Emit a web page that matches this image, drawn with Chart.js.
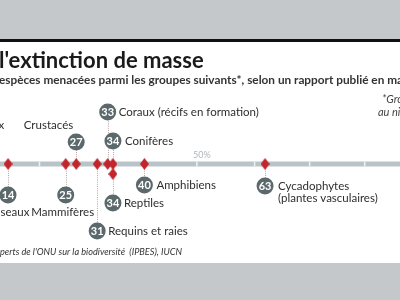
<!DOCTYPE html>
<html><head><meta charset="utf-8">
<script src="https://cdn.jsdelivr.net/npm/chart.js@4"></script>
<style>html,body{margin:0;padding:0;background:#fff}#c{display:block}</style>
</head><body>
<canvas id="c" width="400" height="300"></canvas>
<script>
// ---- data ----
const categories = ['Poissons osseux','Oiseaux','Mammifères','Crustacés','Requins et raies','Coraux (récifs en formation)','Conifères','Reptiles','Amphibiens','Cycadophytes|(plantes vasculaires)'];
const values = [7, 14, 25, 27, 31, 33, 34, 34, 40, 63];
const axisTicks = [20, 50, 61, 71.5, 82];
const axisLabel = '50%';
const title = "l'extinction de masse";
const subtitle = "espèces menacées parmi les groupes suivants*, selon un rapport publié en mai 2019";
const note1 = "*Groupes évalués";
const note2 = "au niveau mondial";
const source = "Source : Groupe d'experts de l'ONU sur la biodiversité  (IPBES), IUCN";

// ---- layout (pixels relative to the axis line) ----
const AXIS_Y = 164;
const layout = [
  {bub:-22, diam:0, lx:33,  ly:-39, align:'right'},
  {bub:31,  diam:0, lx:1,   ly:48,  align:'center'},
  {bub:31,  diam:0, lx:-3,  ly:48,  align:'center'},
  {bub:-22, diam:0, lx:-3,  ly:-39, align:'right'},
  {bub:67,  diam:0, lx:11,  ly:67,  align:'left'},
  {bub:-52, diam:0, lx:11,  ly:-52, align:'left'},
  {bub:-23, diam:0, lx:12,  ly:-23, align:'left'},
  {bub:39,  diam:10,lx:11,  ly:39,  align:'left'},
  {bub:21,  diam:0, lx:12,  ly:21,  align:'left'},
  {bub:22,  diam:0, lx:13,  ly:22,  align:'left'}
];

const FONT = 'Lato, "Open Sans", sans-serif';
const RED = '#c2262c', BUB = '#5b696d', GREYBAND = '#c4c8cb', AXIS = '#b9c4c9';

// diamond marker
const dm = document.createElement('canvas'); dm.width = 9; dm.height = 12;
(function(){const g = dm.getContext('2d'); g.fillStyle = RED; g.beginPath();
 g.moveTo(4.5,0); g.lineTo(9,6); g.lineTo(4.5,12); g.lineTo(0,6); g.closePath(); g.fill();})();

const diamonds = values.map((v,i)=>({x:v, y:AXIS_Y + layout[i].diam}));
const bubbles = values.map((v,i)=>({x:v, y:AXIS_Y + layout[i].bub}));

function txt(c, s, x, y, align, sx){
  c.save(); c.translate(x, y); c.scale(sx, 1); c.textAlign = align; c.fillText(s, 0, 0); c.restore();
}

const decor = {
  id:'decor',
  beforeDraw(chart){
    const c = chart.ctx; const W = chart.width, H = chart.height;
    c.save();
    c.fillStyle = '#fff'; c.fillRect(0,0,W,H);
    c.fillStyle = GREYBAND; c.fillRect(0,0,W,39); c.fillRect(0,263,W,H-263);
    c.fillStyle = '#111'; c.fillRect(0,39,W,3);
    c.fillStyle = '#1a1a1a'; c.textBaseline = 'alphabetic'; c.textAlign = 'left';
    c.font = 'bold 22px ' + FONT; c.fillText(title, -1, 68);
    c.fillStyle = '#333'; c.font = 'bold 11.8px ' + FONT; c.fillText(subtitle, -1, 84);
    c.font = 'italic 11px ' + FONT; c.fillStyle = '#444';
    c.fillText(note1, 382, 103); c.fillText(note2, 378, 116);
    c.font = 'italic 9px ' + FONT; c.fillStyle = '#333';
    const pre = "Source : Groupe d'ex";
    txt(c, source, -c.measureText(pre).width*1.02, 255, 'left', 1.02);
    c.restore();
  },
  beforeDatasetsDraw(chart){
    const c = chart.ctx, xs = chart.scales.x, ys = chart.scales.y;
    const ay = ys.getPixelForValue(AXIS_Y);
    c.save();
    c.fillStyle = AXIS; c.fillRect(0, ay-2.5, chart.width, 5);
    c.fillStyle = '#eef1f2';
    axisTicks.forEach(t=>{ const px = xs.getPixelForValue(t); c.fillRect(px-0.75, ay-2.5, 1.5, 5); });
    c.fillStyle = '#b0b6b9'; c.font = '9px ' + FONT; c.textAlign='center';
    c.fillText(axisLabel, xs.getPixelForValue(50)+5, ay-6);
    // connectors
    c.strokeStyle = '#b8a4a4'; c.lineWidth = 1; c.setLineDash([1,1.2]);
    values.forEach((v,i)=>{
      const px = Math.round(xs.getPixelForValue(v))+0.5;
      const y1 = ay, y2 = ys.getPixelForValue(AXIS_Y + layout[i].bub);
      c.beginPath(); c.moveTo(px, y1); c.lineTo(px, y2); c.stroke();
    });
    c.restore();
  },
  afterDatasetsDraw(chart){
    const c = chart.ctx, xs = chart.scales.x, ys = chart.scales.y;
    c.save();
    values.forEach((v,i)=>{
      const px = xs.getPixelForValue(v), by = ys.getPixelForValue(AXIS_Y + layout[i].bub);
      c.fillStyle = '#fff'; c.font = 'bold 11px ' + FONT; c.textAlign='center'; c.textBaseline='middle';
      c.fillText(String(v), px, by+0.5);
      const L = layout[i];
      c.fillStyle = '#2e2e2e'; c.font = '11.5px ' + FONT;
      const lines = categories[i].split('|');
      lines.forEach((s,k)=> txt(c, s, px + L.lx, ys.getPixelForValue(AXIS_Y + L.ly) + k*12.5, L.align, 1));
    });
    c.restore();
  }
};

new Chart(document.getElementById('c'), {
  type:'scatter',
  data:{datasets:[
    {data:diamonds, pointStyle:dm, pointRadius:6, pointHoverRadius:6},
    {data:bubbles, pointStyle:'circle', pointRadius:8.5, pointHoverRadius:8.5, backgroundColor:BUB, borderWidth:0}
  ]},
  options:{
    responsive:false, animation:false, devicePixelRatio:1,
    layout:{padding:0, autoPadding:false},
    plugins:{legend:{display:false}, tooltip:{enabled:false}},
    scales:{
      x:{type:'linear', min:12.47, max:88.73, display:false},
      y:{type:'linear', min:0, max:300, reverse:true, display:false}
    }
  },
  plugins:[decor]
});
</script>
</body></html>
